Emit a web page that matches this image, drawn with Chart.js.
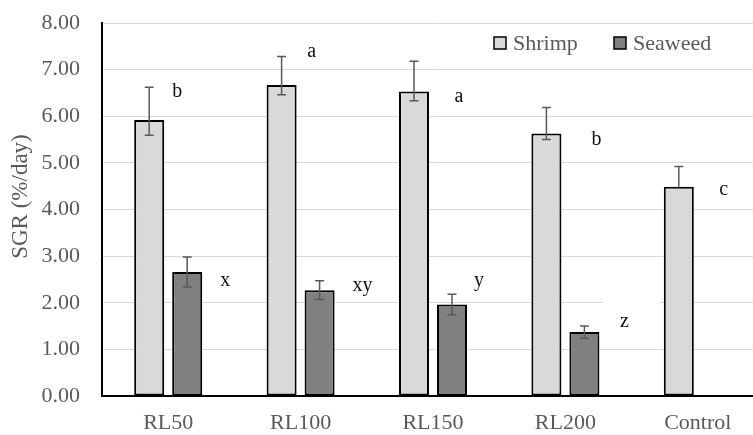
<!DOCTYPE html>
<html>
<head>
<meta charset="utf-8">
<script src="https://cdn.jsdelivr.net/npm/chart.js@4.4.1/dist/chart.umd.min.js"></script>
<style>
html, body { margin: 0; padding: 0; overflow: hidden; background: #fff; }
#wrap { width: 780px; height: 435px; position: relative; }
</style>
</head>
<body>
<div id="wrap"><canvas id="sgrChart"></canvas></div>
<script>
// data
var groups = ['RL50', 'RL100', 'RL150', 'RL200', 'Control'];
var shrimpSgr = [5.92, 6.67, 6.53, 5.63, 4.49];
var shrimpErrUp = [0.70, 0.61, 0.65, 0.56, 0.43];
var shrimpErrDown = [0.33, 0.21, 0.20, 0.13, 0];
var seaweedSgr = [2.66, 2.27, 1.96, 1.37, null];
var seaweedErr = [0.32, 0.20, 0.22, 0.13, null];
var yTicks = [0, 1, 2, 3, 4, 5, 6, 7, 8];
var yTitle = 'SGR (%/day)';

// significance letters and the value they sit at
var shrimpLetters = ['b', 'a', 'a', 'b', 'c'];
var shrimpLetterY = [6.52, 7.38, 6.41, 5.49, 4.42];
var seaweedLetters = ['x', 'xy', 'y', 'z', ''];
var seaweedLetterY = [2.48, 2.36, 2.47, 1.59, null];

// pixel nudges to the right of each bar (style)
var shrimpLetterDx = [28, 30, 45, 50, 45];
var seaweedLetterDx = [38, 43, 27, 40, 0];

var FONT = '"Liberation Serif", "Times New Roman", serif';
var GREY_TEXT = '#595959';

var errorBars = {
    id: 'errorBars',
    afterDatasetsDraw: function (chart) {
        var ctx = chart.ctx, y = chart.scales.y;
        var sets = [
            { idx: 0, vals: shrimpSgr, up: shrimpErrUp, down: shrimpErrDown },
            { idx: 1, vals: seaweedSgr, up: seaweedErr, down: seaweedErr }
        ];
        ctx.save();
        ctx.strokeStyle = '#595959';
        ctx.lineWidth = 1.5;
        sets.forEach(function (s) {
            var meta = chart.getDatasetMeta(s.idx);
            s.vals.forEach(function (v, i) {
                if (v == null) return;
                var x = meta.data[i].x;
                var top = y.getPixelForValue(v + s.up[i]);
                var bot = y.getPixelForValue(v - s.down[i]);
                ctx.beginPath();
                ctx.moveTo(x, top); ctx.lineTo(x, bot);
                ctx.moveTo(x - 4.5, top); ctx.lineTo(x + 4.5, top);
                if (s.down[i] > 0) { ctx.moveTo(x - 4.5, bot); ctx.lineTo(x + 4.5, bot); }
                ctx.stroke();
            });
        });
        ctx.restore();
    }
};

var letterLabels = {
    id: 'letterLabels',
    afterDatasetsDraw: function (chart) {
        var ctx = chart.ctx, y = chart.scales.y;
        var sets = [
            { idx: 0, txt: shrimpLetters, at: shrimpLetterY, dx: shrimpLetterDx },
            { idx: 1, txt: seaweedLetters, at: seaweedLetterY, dx: seaweedLetterDx }
        ];
        ctx.save();
        ctx.font = '20px ' + FONT;
        ctx.textAlign = 'center';
        ctx.textBaseline = 'middle';
        sets.forEach(function (s) {
            var meta = chart.getDatasetMeta(s.idx);
            s.txt.forEach(function (t, i) {
                if (!t) return;
                var x = meta.data[i].x + s.dx[i];
                var py = y.getPixelForValue(s.at[i]);
                if (t === 'z') {
                    // the text box of this label hides a bit of gridline
                    ctx.fillStyle = '#fff';
                    ctx.fillRect(x - 21, py - 22, 56, 44);
                }
                ctx.fillStyle = '#111';
                ctx.fillText(t, x, py);
            });
        });
        ctx.restore();
    }
};

// axis title sits a little above the middle of the axis in the original
var axisTitle = {
    id: 'axisTitle',
    afterDraw: function (chart) {
        var ctx = chart.ctx, a = chart.chartArea;
        ctx.save();
        ctx.translate(21, (a.top + a.bottom) / 2 - 13);
        ctx.rotate(-Math.PI / 2);
        ctx.font = '23px ' + FONT;
        ctx.fillStyle = GREY_TEXT;
        ctx.textAlign = 'center';
        ctx.textBaseline = 'middle';
        ctx.fillText(yTitle, 0, 0);
        ctx.restore();
    }
};

var boxLegend = {
    id: 'boxLegend',
    afterDraw: function (chart) {
        var ctx = chart.ctx, a = chart.chartArea;
        var cy = a.top + 20;
        var items = [
            { x: a.left + 392, ds: chart.data.datasets[0] },
            { x: a.left + 512, ds: chart.data.datasets[1] }
        ];
        ctx.save();
        ctx.font = '22px ' + FONT;
        ctx.textBaseline = 'middle';
        ctx.textAlign = 'left';
        items.forEach(function (it) {
            ctx.fillStyle = it.ds.backgroundColor;
            ctx.fillRect(it.x, cy - 6, 12, 12);
            ctx.lineWidth = 1.5;
            ctx.strokeStyle = '#000';
            ctx.strokeRect(it.x, cy - 6, 12, 12);
            ctx.fillStyle = GREY_TEXT;
            ctx.fillText(it.ds.label, it.x + 19, cy + 1);
        });
        ctx.restore();
    }
};

var ctx = document.getElementById('sgrChart').getContext('2d');
var sgrChart = new Chart(ctx, {
    type: 'bar',
    data: {
        labels: groups,
        datasets: [{
            label: 'Shrimp',
            data: shrimpSgr,
            backgroundColor: '#d9d9d9',
            borderColor: '#000',
            borderWidth: 2,
            borderSkipped: false
        }, {
            label: 'Seaweed',
            data: seaweedSgr,
            backgroundColor: '#808080',
            borderColor: '#000',
            borderWidth: 2,
            borderSkipped: false
        }]
    },
    options: {
        responsive: true,
        maintainAspectRatio: false,
        animation: false,
        devicePixelRatio: 1,
        categoryPercentage: 0.574,
        barPercentage: 0.79,
        layout: { padding: { top: 23, right: 16, left: 0, bottom: 0 } },
        plugins: {
            legend: { display: false },
            tooltip: { enabled: false }
        },
        scales: {
            x: {
                grid: { color: 'transparent', drawTicks: false },
                border: { display: true, color: '#000', width: 2 },
                ticks: { color: GREY_TEXT, font: { family: FONT, size: 22 }, padding: 14 },
                afterFit: function (scale) { scale.height = 39; }
            },
            y: {
                min: 0,
                max: 8,
                afterBuildTicks: function (scale) {
                    scale.ticks = yTicks.map(function (v) { return { value: v }; });
                },
                grid: { color: '#d9d9d9', lineWidth: 1, drawTicks: true, tickLength: 22, tickColor: 'transparent' },
                border: { display: true, color: '#000', width: 2 },
                ticks: {
                    color: GREY_TEXT,
                    font: { family: FONT, size: 22 },
                    padding: 0,
                    callback: function (v) { return Number(v).toFixed(2); }
                },
                afterFit: function (scale) { scale.width = 102; }
            }
        }
    },
    plugins: [errorBars, letterLabels, axisTitle, boxLegend]
});
</script>
</body>
</html>
